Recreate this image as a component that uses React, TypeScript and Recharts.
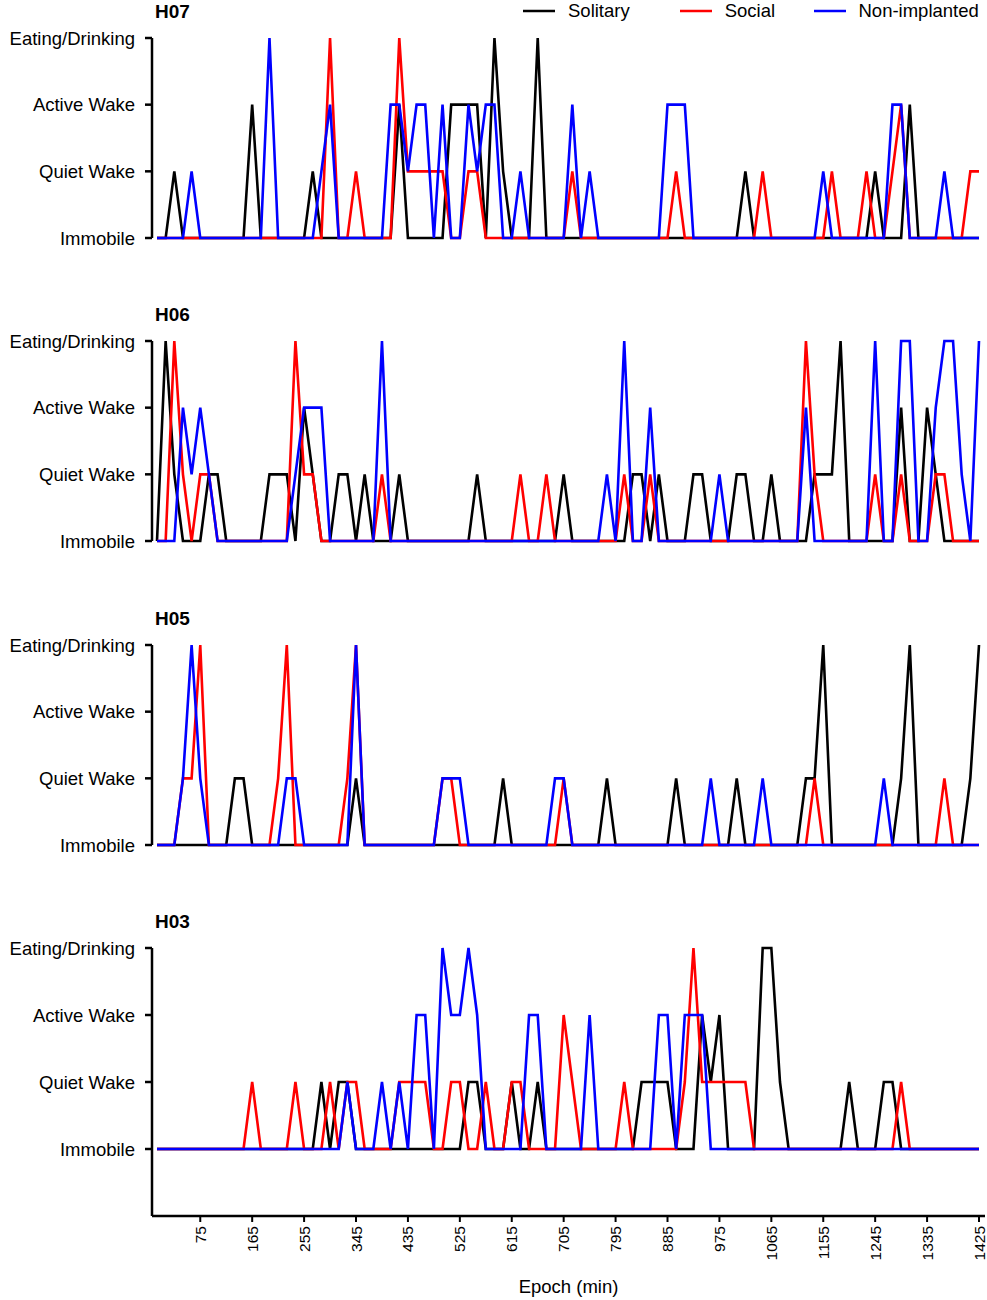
import { LineChart, Line, XAxis, YAxis, Legend } from "recharts"

// epoch start times (min)
const epochs = [
  0, 15, 30, 45, 60, 75, 90, 105, 120, 135, 150, 165,
  180, 195, 210, 225, 240, 255, 270, 285, 300, 315, 330, 345,
  360, 375, 390, 405, 420, 435, 450, 465, 480, 495, 510, 525,
  540, 555, 570, 585, 600, 615, 630, 645, 660, 675, 690, 705,
  720, 735, 750, 765, 780, 795, 810, 825, 840, 855, 870, 885,
  900, 915, 930, 945, 960, 975, 990, 1005, 1020, 1035, 1050, 1065,
  1080, 1095, 1110, 1125, 1140, 1155, 1170, 1185, 1200, 1215, 1230, 1245,
  1260, 1275, 1290, 1305, 1320, 1335, 1350, 1365, 1380, 1395, 1410, 1425,
]

const stateLabels = ["Immobile", "Quiet Wake", "Active Wake", "Eating/Drinking"]
const xTicks = [75, 165, 255, 345, 435, 525, 615, 705, 795, 885, 975, 1065, 1155, 1245, 1335, 1425]

// 0 = Immobile, 1 = Quiet Wake, 2 = Active Wake, 3 = Eating/Drinking
const h07Solitary = [
  0, 0, 1, 0, 0, 0, 0, 0, 0, 0, 0, 2,
  0, 0, 0, 0, 0, 0, 1, 0, 0, 0, 0, 0,
  0, 0, 0, 0, 2, 0, 0, 0, 0, 0, 2, 2,
  2, 2, 0, 3, 1, 0, 0, 0, 3, 0, 0, 0,
  0, 0, 0, 0, 0, 0, 0, 0, 0, 0, 0, 0,
  0, 0, 0, 0, 0, 0, 0, 0, 1, 0, 0, 0,
  0, 0, 0, 0, 0, 0, 0, 0, 0, 0, 0, 1,
  0, 0, 0, 2, 0, 0, 0, 0, 0, 0, 0, 0,
]
const h07Social = [
  0, 0, 0, 0, 0, 0, 0, 0, 0, 0, 0, 0,
  0, 0, 0, 0, 0, 0, 0, 0, 3, 0, 0, 1,
  0, 0, 0, 0, 3, 1, 1, 1, 1, 1, 0, 0,
  1, 1, 0, 0, 0, 0, 0, 0, 0, 0, 0, 0,
  1, 0, 0, 0, 0, 0, 0, 0, 0, 0, 0, 0,
  1, 0, 0, 0, 0, 0, 0, 0, 0, 0, 1, 0,
  0, 0, 0, 0, 0, 0, 1, 0, 0, 0, 1, 0,
  0, 1, 2, 0, 0, 0, 0, 0, 0, 0, 1, 1,
]
const h07NonImplanted = [
  0, 0, 0, 0, 1, 0, 0, 0, 0, 0, 0, 0,
  0, 3, 0, 0, 0, 0, 0, 1, 2, 0, 0, 0,
  0, 0, 0, 2, 2, 1, 2, 2, 0, 2, 0, 0,
  2, 1, 2, 2, 0, 0, 1, 0, 0, 0, 0, 0,
  2, 0, 1, 0, 0, 0, 0, 0, 0, 0, 0, 2,
  2, 2, 0, 0, 0, 0, 0, 0, 0, 0, 0, 0,
  0, 0, 0, 0, 0, 1, 0, 0, 0, 0, 0, 0,
  0, 2, 2, 0, 0, 0, 0, 1, 0, 0, 0, 0,
]

const h06Solitary = [
  0, 3, 1, 0, 0, 0, 1, 1, 0, 0, 0, 0,
  0, 1, 1, 1, 0, 2, 1, 0, 0, 1, 1, 0,
  1, 0, 0, 0, 1, 0, 0, 0, 0, 0, 0, 0,
  0, 1, 0, 0, 0, 0, 0, 0, 0, 0, 0, 1,
  0, 0, 0, 0, 0, 0, 0, 1, 1, 0, 1, 0,
  0, 0, 1, 1, 0, 0, 0, 1, 1, 0, 0, 1,
  0, 0, 0, 0, 1, 1, 1, 3, 0, 0, 0, 0,
  0, 0, 2, 0, 0, 2, 1, 0, 0, 0, 0, 0,
]
const h06Social = [
  0, 0, 3, 1, 0, 1, 1, 0, 0, 0, 0, 0,
  0, 0, 0, 0, 3, 1, 1, 0, 0, 0, 0, 0,
  0, 0, 1, 0, 0, 0, 0, 0, 0, 0, 0, 0,
  0, 0, 0, 0, 0, 0, 1, 0, 0, 1, 0, 0,
  0, 0, 0, 0, 0, 0, 1, 0, 0, 1, 0, 0,
  0, 0, 0, 0, 0, 0, 0, 0, 0, 0, 0, 0,
  0, 0, 0, 3, 1, 0, 0, 0, 0, 0, 0, 1,
  0, 0, 1, 0, 0, 0, 1, 1, 0, 0, 0, 0,
]
const h06NonImplanted = [
  0, 0, 0, 2, 1, 2, 1, 0, 0, 0, 0, 0,
  0, 0, 0, 0, 1, 2, 2, 2, 0, 0, 0, 0,
  0, 0, 3, 0, 0, 0, 0, 0, 0, 0, 0, 0,
  0, 0, 0, 0, 0, 0, 0, 0, 0, 0, 0, 0,
  0, 0, 0, 0, 1, 0, 3, 0, 0, 2, 0, 0,
  0, 0, 0, 0, 0, 1, 0, 0, 0, 0, 0, 0,
  0, 0, 0, 2, 0, 0, 0, 0, 0, 0, 0, 3,
  0, 0, 3, 3, 0, 0, 2, 3, 3, 1, 0, 3,
]

const h05Solitary = [
  0, 0, 0, 0, 0, 0, 0, 0, 0, 1, 1, 0,
  0, 0, 0, 0, 0, 0, 0, 0, 0, 0, 0, 1,
  0, 0, 0, 0, 0, 0, 0, 0, 0, 0, 0, 0,
  0, 0, 0, 0, 1, 0, 0, 0, 0, 0, 0, 0,
  0, 0, 0, 0, 1, 0, 0, 0, 0, 0, 0, 0,
  1, 0, 0, 0, 0, 0, 0, 1, 0, 0, 0, 0,
  0, 0, 0, 1, 1, 3, 0, 0, 0, 0, 0, 0,
  0, 0, 1, 3, 0, 0, 0, 0, 0, 0, 1, 3,
]
const h05Social = [
  0, 0, 0, 1, 1, 3, 0, 0, 0, 0, 0, 0,
  0, 0, 1, 3, 0, 0, 0, 0, 0, 0, 1, 3,
  0, 0, 0, 0, 0, 0, 0, 0, 0, 1, 1, 0,
  0, 0, 0, 0, 0, 0, 0, 0, 0, 0, 0, 1,
  0, 0, 0, 0, 0, 0, 0, 0, 0, 0, 0, 0,
  0, 0, 0, 0, 0, 0, 0, 0, 0, 0, 0, 0,
  0, 0, 0, 0, 1, 0, 0, 0, 0, 0, 0, 0,
  0, 0, 0, 0, 0, 0, 0, 1, 0, 0, 0, 0,
]
const h05NonImplanted = [
  0, 0, 0, 1, 3, 1, 0, 0, 0, 0, 0, 0,
  0, 0, 0, 1, 1, 0, 0, 0, 0, 0, 0, 3,
  0, 0, 0, 0, 0, 0, 0, 0, 0, 1, 1, 1,
  0, 0, 0, 0, 0, 0, 0, 0, 0, 0, 1, 1,
  0, 0, 0, 0, 0, 0, 0, 0, 0, 0, 0, 0,
  0, 0, 0, 0, 1, 0, 0, 0, 0, 0, 1, 0,
  0, 0, 0, 0, 0, 0, 0, 0, 0, 0, 0, 0,
  1, 0, 0, 0, 0, 0, 0, 0, 0, 0, 0, 0,
]

const h03Solitary = [
  0, 0, 0, 0, 0, 0, 0, 0, 0, 0, 0, 0,
  0, 0, 0, 0, 0, 0, 0, 1, 0, 1, 1, 0,
  0, 0, 0, 0, 0, 0, 0, 0, 0, 0, 0, 0,
  1, 1, 0, 0, 0, 1, 0, 0, 1, 0, 0, 0,
  0, 0, 0, 0, 0, 0, 0, 0, 1, 1, 1, 1,
  0, 0, 0, 2, 1, 2, 0, 0, 0, 0, 3, 3,
  1, 0, 0, 0, 0, 0, 0, 0, 1, 0, 0, 0,
  1, 1, 0, 0, 0, 0, 0, 0, 0, 0, 0, 0,
]
const h03Social = [
  0, 0, 0, 0, 0, 0, 0, 0, 0, 0, 0, 1,
  0, 0, 0, 0, 1, 0, 0, 0, 1, 0, 1, 1,
  0, 0, 0, 0, 1, 1, 1, 1, 0, 0, 1, 1,
  0, 0, 1, 0, 0, 1, 1, 0, 0, 0, 0, 2,
  1, 0, 0, 0, 0, 0, 1, 0, 0, 0, 0, 0,
  0, 1, 3, 1, 1, 1, 1, 1, 1, 0, 0, 0,
  0, 0, 0, 0, 0, 0, 0, 0, 0, 0, 0, 0,
  0, 0, 1, 0, 0, 0, 0, 0, 0, 0, 0, 0,
]
const h03NonImplanted = [
  0, 0, 0, 0, 0, 0, 0, 0, 0, 0, 0, 0,
  0, 0, 0, 0, 0, 0, 0, 0, 0, 0, 1, 0,
  0, 0, 1, 0, 1, 0, 2, 2, 0, 3, 2, 2,
  3, 2, 0, 0, 0, 0, 0, 2, 2, 0, 0, 0,
  0, 0, 2, 0, 0, 0, 0, 0, 0, 0, 2, 2,
  0, 2, 2, 2, 0, 0, 0, 0, 0, 0, 0, 0,
  0, 0, 0, 0, 0, 0, 0, 0, 0, 0, 0, 0,
  0, 0, 0, 0, 0, 0, 0, 0, 0, 0, 0, 0,
]

const series = [
  { key: "solitary", name: "Solitary", color: "#000000" },
  { key: "social", name: "Social", color: "#ff0000" },
  { key: "nonImplanted", name: "Non-implanted", color: "#0000ff" },
]

const buildRows = (sol: number[], soc: number[], non: number[]) =>
  epochs.map((t, i) => ({ t, solitary: sol[i], social: soc[i], nonImplanted: non[i] }))

const panels = [
  { title: "H07", top: 0, rows: buildRows(h07Solitary, h07Social, h07NonImplanted) },
  { title: "H06", top: 303, rows: buildRows(h06Solitary, h06Social, h06NonImplanted) },
  { title: "H05", top: 607, rows: buildRows(h05Solitary, h05Social, h05NonImplanted) },
  { title: "H03", top: 910, rows: buildRows(h03Solitary, h03Social, h03NonImplanted) },
]

const FONT = '"Liberation Sans", Arial, Helvetica, sans-serif'
const legendWidths = [158, 135, 175]

function EpochTick(props: any) {
  const { x, y, payload } = props
  return (
    <g transform={`translate(${x},${y})`}>
      <text transform="rotate(-90)" textAnchor="end" dominantBaseline="central" fontSize={15.5} fill="#000">
        {payload.value}
      </text>
    </g>
  )
}

function renderLegend(props: any) {
  const payload: any[] = props.payload || []
  // keep the series order (Recharts may hand the payload over reversed)
  const ordered = series
    .map((s) => payload.find((p) => p.value === s.name))
    .filter(Boolean)
  return (
    <div style={{ display: "flex", alignItems: "center", fontSize: 18.5, color: "#000", height: 22, whiteSpace: "nowrap" }}>
      {ordered.map((entry: any, i: number) => (
        <div key={entry.value} style={{ display: "flex", alignItems: "center", width: legendWidths[i] }}>
          <svg width={32} height={4}>
            <line x1={0} y1={2} x2={32} y2={2} stroke={entry.color} strokeWidth={2.5} />
          </svg>
          <span style={{ marginLeft: 13 }}>{entry.value}</span>
        </div>
      ))}
    </div>
  )
}

function Panel({ title, top, rows, last, first }: any) {
  const height = last ? 388 : 258
  return (
    <>
      <div
        style={{
          position: "absolute",
          left: 155,
          top: top + 2,
          fontSize: 19,
          fontWeight: "bold",
          lineHeight: "20px",
        }}
      >
        {title}
      </div>
      <div style={{ position: "absolute", left: 0, top }}>
        <LineChart width={987} height={height} data={rows} margin={{ top: 38, right: 2, bottom: last ? 0 : 20, left: 0 }}>
          <XAxis
            dataKey="t"
            type="number"
            domain={[0, 1425]}
            ticks={xTicks}
            interval={0}
            padding={{ left: 5, right: 6 }}
            hide={!last}
            height={last ? 82 : 0}
            axisLine={{ stroke: "#000", strokeWidth: 2.5 }}
            tickLine={{ stroke: "#000", strokeWidth: 2 }}
            tickSize={6}
            tickMargin={4}
            tick={<EpochTick />}
            label={
              last
                ? { value: "Epoch (min)", position: "insideBottom", offset: 5, fill: "#000", fontSize: 18.5 }
                : undefined
            }
          />
          <YAxis
            type="number"
            domain={last ? [-1, 3] : [0, 3]}
            ticks={[0, 1, 2, 3]}
            interval={0}
            width={152}
            tickFormatter={(v: number) => stateLabels[v]}
            axisLine={{ stroke: "#000", strokeWidth: 2.5 }}
            tickLine={{ stroke: "#000", strokeWidth: 2.5 }}
            tickSize={7}
            tickMargin={10}
            tick={{ fill: "#000", fontSize: 18.5 }}
          />
          {first && (
            <Legend
              verticalAlign="middle"
              align="center"
              content={renderLegend}
              wrapperStyle={{ top: 0, left: 523, width: 464, height: 22 }}
            />
          )}
          {series.map((s) => (
            <Line
              key={s.key}
              type="linear"
              dataKey={s.key}
              name={s.name}
              stroke={s.color}
              strokeWidth={2.6}
              dot={false}
              activeDot={false}
              isAnimationActive={false}
            />
          ))}
        </LineChart>
      </div>
    </>
  )
}

export default function App() {
  return (
    <div
      style={{
        position: "absolute",
        left: 0,
        top: 0,
        width: 987,
        height: 1300,
        background: "#fff",
        fontFamily: FONT,
        color: "#000",
      }}
    >
      {panels.map((p, i) => (
        <Panel key={p.title} {...p} first={i === 0} last={i === panels.length - 1} />
      ))}
    </div>
  )
}
